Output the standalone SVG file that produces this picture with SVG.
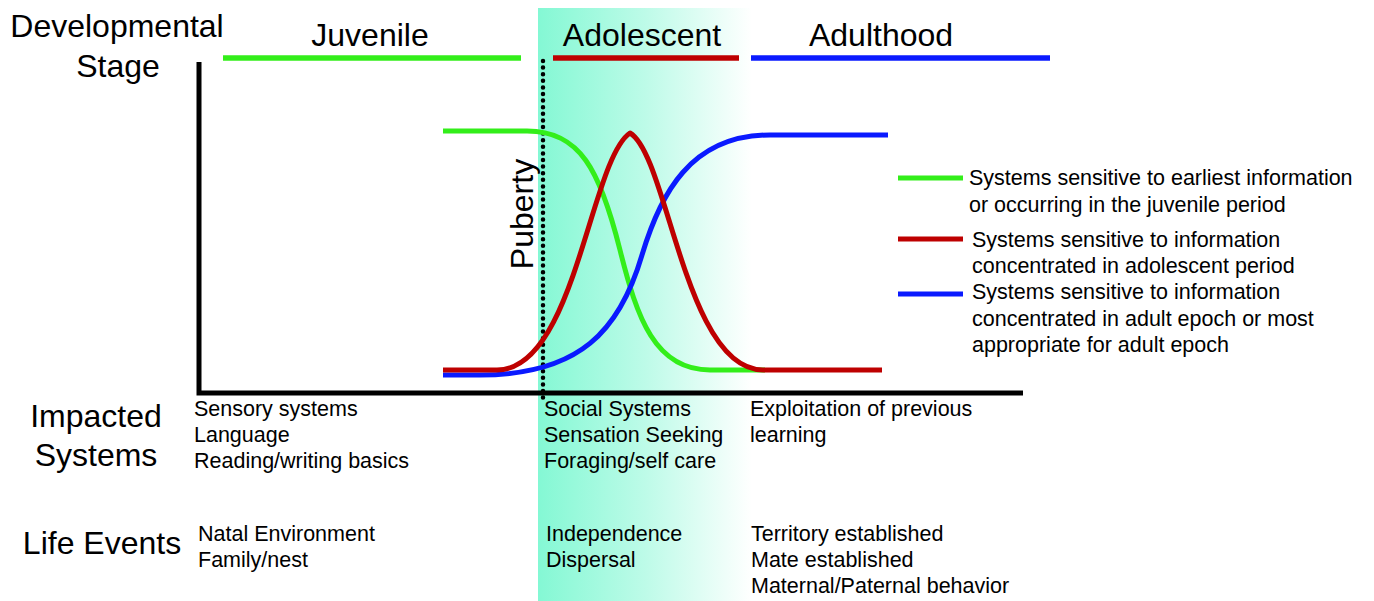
<svg xmlns="http://www.w3.org/2000/svg" width="1374" height="601" viewBox="0 0 1374 601">
<defs>
<linearGradient id="adoGrad" x1="0" y1="0" x2="1" y2="0">
<stop offset="0" stop-color="#84F8D4"/>
<stop offset="0.5" stop-color="#BDFBE8"/>
<stop offset="1" stop-color="#FFFFFF"/>
</linearGradient>
<style>
text{font-family:"Liberation Sans",Arial,sans-serif;fill:#000}
.big{font-size:32px}
.sm{font-size:21.5px}
.axis{stroke:#000;stroke-width:5;fill:none}
.g{stroke:#33EE1A}
.r{stroke:#BE0000}
.b{stroke:#0A1AFF}
.stage{stroke-width:5.5;fill:none}
.curve{stroke-width:5;fill:none;stroke-linejoin:round}
.leg{stroke-width:5;fill:none}
</style>
</defs>
<rect width="1374" height="601" fill="#fff"/>
<rect id="adolescent-band" x="538" y="8" width="214" height="593" fill="url(#adoGrad)"/>

<g id="axes">
<path class="axis" d="M199,62 V393 H1023"/>
</g>

<g id="ylabel">
<text class="big" x="117" y="37" text-anchor="middle">Developmental</text>
<text class="big" x="118" y="77" text-anchor="middle">Stage</text>
</g>

<g id="stage-juvenile">
<text class="big" x="370" y="46" text-anchor="middle">Juvenile</text>
<line class="stage g" x1="223" y1="58" x2="521" y2="58"/>
</g>
<g id="stage-adolescent">
<text class="big" x="642" y="46" text-anchor="middle">Adolescent</text>
<line class="stage r" x1="553" y1="58" x2="739" y2="58"/>
</g>
<g id="stage-adulthood">
<text class="big" x="881" y="46" text-anchor="middle">Adulthood</text>
<line class="stage b" x1="751" y1="58" x2="1050" y2="58"/>
</g>

<g id="puberty">
<line x1="543" y1="61" x2="543" y2="398" stroke="#000" stroke-width="4.5" stroke-linecap="round" stroke-dasharray="0 6.6"/>
<text class="big" transform="translate(533,214) rotate(-90)" text-anchor="middle">Puberty</text>
</g>

<g id="connectors">
<path id="curve-green" class="curve g" d="M443,131 L527,131 C580,131 600,170 620,250 C637,318 655,370 710,370 L765,370"/>
<path id="curve-blue" class="curve b" d="M443,375 L480,375 C580,375 620,330 642,255 C660,195 690,135 770,135 L888,135"/>
<path id="curve-red" class="curve r" d="M443,370 L497,370 C575,370 590,160 630,133 C668,155 685,370 763,370 L882,370"/>
</g>

<g id="legend-green">
<line class="leg g" x1="898" y1="178" x2="963" y2="178"/>
<text class="sm" x="969" y="185">Systems sensitive to earliest information</text>
<text class="sm" x="969" y="212">or occurring in the juvenile period</text>
</g>
<g id="legend-red">
<line class="leg r" x1="898" y1="239" x2="963" y2="239"/>
<text class="sm" x="972" y="247">Systems sensitive to information</text>
<text class="sm" x="972" y="273">concentrated in adolescent period</text>
</g>
<g id="legend-blue">
<line class="leg b" x1="898" y1="294" x2="963" y2="294"/>
<text class="sm" x="972" y="299">Systems sensitive to information</text>
<text class="sm" x="972" y="326">concentrated in adult epoch or most</text>
<text class="sm" x="972" y="352">appropriate for adult epoch</text>
</g>

<g id="impacted-label">
<text class="big" x="96" y="427" text-anchor="middle">Impacted</text>
<text class="big" x="96" y="466" text-anchor="middle">Systems</text>
</g>
<g id="impacted-juvenile">
<text class="sm" x="194" y="416">Sensory systems</text>
<text class="sm" x="194" y="442">Language</text>
<text class="sm" x="194" y="468">Reading/writing basics</text>
</g>
<g id="impacted-adolescent">
<text class="sm" x="544" y="416">Social Systems</text>
<text class="sm" x="544" y="442">Sensation Seeking</text>
<text class="sm" x="544" y="468">Foraging/self care</text>
</g>
<g id="impacted-adult">
<text class="sm" x="750" y="416">Exploitation of previous</text>
<text class="sm" x="750" y="442">learning</text>
</g>

<g id="life-label">
<text class="big" x="102" y="554" text-anchor="middle">Life Events</text>
</g>
<g id="life-juvenile">
<text class="sm" x="198" y="541">Natal Environment</text>
<text class="sm" x="198" y="567">Family/nest</text>
</g>
<g id="life-adolescent">
<text class="sm" x="546" y="541">Independence</text>
<text class="sm" x="546" y="567">Dispersal</text>
</g>
<g id="life-adult">
<text class="sm" x="751" y="541">Territory established</text>
<text class="sm" x="751" y="567">Mate established</text>
<text class="sm" x="751" y="593">Maternal/Paternal behavior</text>
</g>
</svg>
